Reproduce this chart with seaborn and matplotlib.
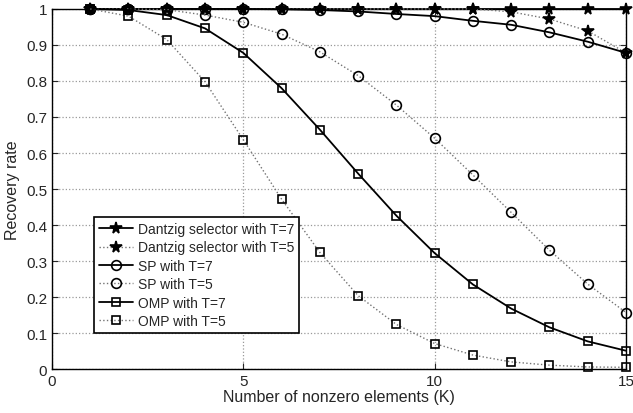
import matplotlib
matplotlib.use("Agg")
import matplotlib.pyplot as plt
import numpy as np
import pandas as pd
import seaborn as sns

sns.set_style("ticks")
plt.rcParams["font.family"] = ["Liberation Sans", "DejaVu Sans"]

# Data
K = list(range(1, 16))
dantzig_t7 = [1.0] * 15
dantzig_t5 = [1.0, 1.0, 1.0, 1.0, 1.0, 1.0, 1.0, 1.0, 1.0, 1.0, 1.0, 0.992, 0.972, 0.939, 0.878]
sp_t7 = [1.0, 1.0, 1.0, 1.0, 1.0, 0.999, 0.997, 0.993, 0.986, 0.980, 0.967, 0.956, 0.935, 0.909, 0.878]
sp_t5 = [1.0, 1.0, 0.998, 0.983, 0.963, 0.930, 0.881, 0.815, 0.733, 0.641, 0.539, 0.435, 0.330, 0.236, 0.157]
omp_t7 = [1.0, 0.997, 0.983, 0.946, 0.878, 0.780, 0.665, 0.543, 0.426, 0.322, 0.235, 0.168, 0.116, 0.077, 0.051]
omp_t5 = [1.0, 0.980, 0.915, 0.798, 0.637, 0.472, 0.324, 0.204, 0.124, 0.071, 0.039, 0.020, 0.011, 0.006, 0.005]

series = [
    ("Dantzig selector with T=7", dantzig_t7, "-", "*", "black"),
    ("Dantzig selector with T=5", dantzig_t5, ":", "*", "black"),
    ("SP with T=7", sp_t7, "-", "o", "none"),
    ("SP with T=5", sp_t5, ":", "o", "none"),
    ("OMP with T=7", omp_t7, "-", "s", "none"),
    ("OMP with T=5", omp_t5, ":", "s", "none"),
]
marker_sizes = {"*": 8.5, "o": 7, "s": 5.5}

fig = plt.figure(figsize=(6.33, 4.14), dpi=100)
ax = fig.add_axes([0.082, 0.106, 0.907, 0.870])

for label, values, ls, marker, face in series:
    df = pd.DataFrame({"K": K, "rate": values})
    solid = ls == "-"
    sns.lineplot(
        data=df,
        x="K",
        y="rate",
        ax=ax,
        label=label,
        color="black" if solid else "0.45",
        linestyle=ls,
        linewidth=1.3 if solid else 1.0,
        marker=marker,
        markersize=marker_sizes[marker],
        markerfacecolor=face,
        markeredgecolor="black",
        markeredgewidth=1.2,
        clip_on=False,
        zorder=3,
    )

ax.set_xlim(0, 15)
ax.set_ylim(0, 1)
ax.set_xticks([0, 5, 10, 15])
ax.set_yticks(np.arange(0, 1.01, 0.1))
ax.set_yticklabels(["0", "0.1", "0.2", "0.3", "0.4", "0.5", "0.6", "0.7", "0.8", "0.9", "1"])
ax.tick_params(direction="in", top=True, right=True, labelsize=11, length=4)
ax.grid(True, linestyle=":", color="0.6", linewidth=0.9)
for spine in ax.spines.values():
    spine.set_visible(True)
    spine.set_linewidth(1.0)
    spine.set_color("black")
ax.set_xlabel("Number of nonzero elements (K)", fontsize=11.5, labelpad=1)
ax.set_ylabel("Recovery rate", fontsize=11.5, labelpad=4)

handles, labels = ax.get_legend_handles_labels()
for h in handles:
    if h.get_linestyle() != "-":
        h.set_color("0.45")
        h.set_markeredgecolor("black")
leg = ax.legend(
    handles,
    labels,
    loc="lower left",
    bbox_to_anchor=(0.073, 0.1),
    fontsize=10,
    frameon=True,
    fancybox=False,
    edgecolor="black",
    framealpha=1,
    borderpad=0.35,
    labelspacing=0.32,
    handlelength=2.5,
    handletextpad=0.3,
    borderaxespad=0,
)
leg.get_frame().set_linewidth(1.2)
leg.set_zorder(5)

fig.savefig("out.png", dpi=100)
